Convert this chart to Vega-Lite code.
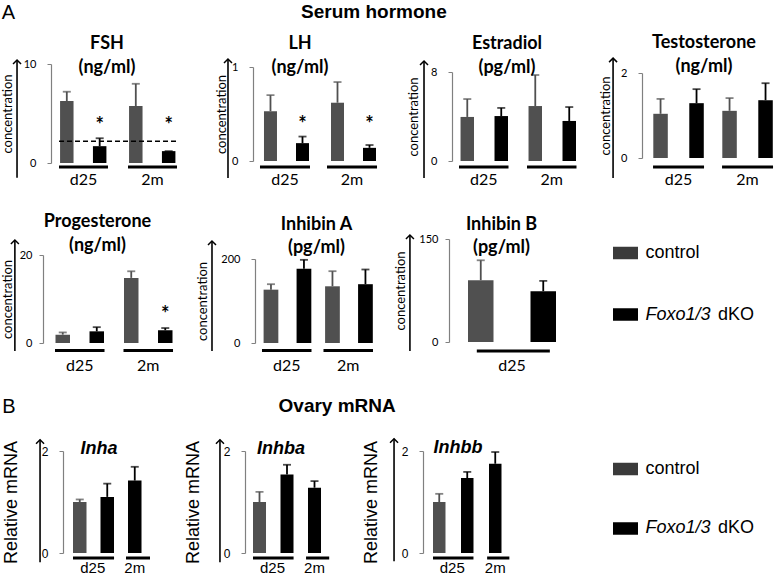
{
"$schema":"https://vega.github.io/schema/vega-lite/v6.json",
"padding":{"left":1,"top":3,"right":0,"bottom":0},
"background":"white",
"config":{"view":{"stroke":null},"font":"Lato","axis":{"labelColor":"#000","titleColor":"#000"}},
"datasets":{
"hormone":[
{"hormone":"FSH","group":"d25","genotype":"control","mean":6.26,"upper":7.2,"sig":false},
{"hormone":"FSH","group":"d25","genotype":"dKO","mean":1.7,"upper":2.5,"sig":true},
{"hormone":"FSH","group":"2m","genotype":"control","mean":5.75,"upper":8.0,"sig":false},
{"hormone":"FSH","group":"2m","genotype":"dKO","mean":1.2,"upper":1.2,"sig":true},
{"hormone":"LH","group":"d25","genotype":"control","mean":0.53,"upper":0.70,"sig":false},
{"hormone":"LH","group":"d25","genotype":"dKO","mean":0.19,"upper":0.26,"sig":true},
{"hormone":"LH","group":"2m","genotype":"control","mean":0.62,"upper":0.84,"sig":false},
{"hormone":"LH","group":"2m","genotype":"dKO","mean":0.14,"upper":0.17,"sig":true},
{"hormone":"Estradiol","group":"d25","genotype":"control","mean":3.96,"upper":5.57,"sig":false},
{"hormone":"Estradiol","group":"d25","genotype":"dKO","mean":4.04,"upper":4.77,"sig":false},
{"hormone":"Estradiol","group":"2m","genotype":"control","mean":4.94,"upper":7.73,"sig":false},
{"hormone":"Estradiol","group":"2m","genotype":"dKO","mean":3.6,"upper":4.85,"sig":false},
{"hormone":"Testosterone","group":"d25","genotype":"control","mean":1.04,"upper":1.39,"sig":false},
{"hormone":"Testosterone","group":"d25","genotype":"dKO","mean":1.29,"upper":1.62,"sig":false},
{"hormone":"Testosterone","group":"2m","genotype":"control","mean":1.11,"upper":1.41,"sig":false},
{"hormone":"Testosterone","group":"2m","genotype":"dKO","mean":1.36,"upper":1.76,"sig":false},
{"hormone":"Progesterone","group":"d25","genotype":"control","mean":1.9,"upper":2.4,"sig":false},
{"hormone":"Progesterone","group":"d25","genotype":"dKO","mean":2.65,"upper":3.6,"sig":false},
{"hormone":"Progesterone","group":"2m","genotype":"control","mean":14.8,"upper":16.3,"sig":false},
{"hormone":"Progesterone","group":"2m","genotype":"dKO","mean":2.9,"upper":3.4,"sig":true},
{"hormone":"Inhibin A","group":"d25","genotype":"control","mean":127,"upper":140,"sig":false},
{"hormone":"Inhibin A","group":"d25","genotype":"dKO","mean":177,"upper":198,"sig":false},
{"hormone":"Inhibin A","group":"2m","genotype":"control","mean":135,"upper":171,"sig":false},
{"hormone":"Inhibin A","group":"2m","genotype":"dKO","mean":140,"upper":175,"sig":false},
{"hormone":"Inhibin B","group":"d25","genotype":"control","mean":90,"upper":119,"sig":false},
{"hormone":"Inhibin B","group":"d25","genotype":"dKO","mean":74,"upper":89,"sig":false}
],
"mrna":[
{"gene":"Inha","slot":"d25 control","genotype":"control","mean":1.0,"upper":1.05},
{"gene":"Inha","slot":"d25 dKO","genotype":"dKO","mean":1.10,"upper":1.36},
{"gene":"Inha","slot":"2m dKO","genotype":"dKO","mean":1.42,"upper":1.69},
{"gene":"Inhba","slot":"d25 control","genotype":"control","mean":1.0,"upper":1.2},
{"gene":"Inhba","slot":"d25 dKO","genotype":"dKO","mean":1.54,"upper":1.73},
{"gene":"Inhba","slot":"2m dKO","genotype":"dKO","mean":1.28,"upper":1.41},
{"gene":"Inhbb","slot":"d25 control","genotype":"control","mean":1.0,"upper":1.16},
{"gene":"Inhbb","slot":"d25 dKO","genotype":"dKO","mean":1.47,"upper":1.59},
{"gene":"Inhbb","slot":"2m dKO","genotype":"dKO","mean":1.75,"upper":1.98}
],
"legend":[
{"genotype":"control","label":"control","suffix":""},
{"genotype":"dKO","label":"Foxo1/3","suffix":"dKO"}
]
},
"resolve":{"scale":{"xOffset":"independent"}},
"spacing":23,
"vconcat":[
{
"title":{"text":"A","anchor":"start","font":"Liberation Sans","fontSize":20,"fontWeight":"normal","color":"#000","baseline":"alphabetic","offset":0,"dy":36},
"spacing":26,
"resolve":{"scale":{"xOffset":"independent"}},
"vconcat":[
{
"title":{"text":"Serum hormone","font":"Liberation Sans","fontSize":19,"fontWeight":"bold","color":"#000","anchor":"middle","baseline":"alphabetic","offset":-3,"dx":-16},
"spacing":60,"bounds":"flush",
"resolve":{"scale":{"xOffset":"independent"}},
"hconcat":[
{"width":150,"height":107,
"title":{"text":["FSH","(ng/ml)"],"font":"Lato","fontSize":18,"fontWeight":"bold","color":"#000","anchor":"middle","frame":"group","baseline":"alphabetic","lineHeight":24,"offset":-35,"dx":-11},
"data":{"name":"hormone"},
"transform":[{"filter":"datum.hormone === 'FSH'"}],
"encoding":{
"x":{"field":"group","type":"nominal","scale":{"domain":["d25","2m"],"paddingInner":0.29,"paddingOuter":0.232,"align":0.5},"axis":{"title":null,"domain":false,"ticks":false,"tickSize":0,"labelAngle":0,"labelFont":"Lato","labelFontSize":16,"labelColor":"#000","labelPadding":8}},
"y":{"field":"mean","type":"quantitative","scale":{"domain":[0,10],"range":[107,8],"nice":false,"zero":false},"axis":{"offset":-8,"values":[0,10],"format":"d","grid":false,"domainColor":"#808080","domainWidth":1.2,"tickColor":"#808080","tickSize":4,"labelFont":"Lato","labelFontSize":11,"labelColor":"#000","labelPadding":11,"title":"concentration","titleFont":"Lato","titleFontSize":13,"titleFontWeight":"normal","titleColor":"#000","titlePadding":8.5}}},
"layer":[
{"mark":{"type":"bar"},"encoding":{"xOffset":{"field":"genotype","type":"nominal","scale":{"domain":["control","dKO"],"paddingInner":0.59,"paddingOuter":0.04,"align":0.4}},"color":{"field":"genotype","type":"nominal","scale":{"domain":["control","dKO"],"range":["#505050","#000000"]},"legend":null}}},
{"mark":{"type":"rule","strokeWidth":1.8},"encoding":{"xOffset":{"field":"genotype","type":"nominal"},"y2":{"field":"upper"},"color":{"field":"genotype","type":"nominal","legend":null}}},
{"mark":{"type":"tick","thickness":1.8,"size":8},"encoding":{"xOffset":{"field":"genotype","type":"nominal"},"y":{"field":"upper","type":"quantitative"},"color":{"field":"genotype","type":"nominal","legend":null}}},
{"transform":[{"filter":"datum.genotype === 'control'"}],"mark":{"type":"rule","strokeWidth":3,"color":"#000","yOffset":4},"encoding":{"x":{"field":"group","type":"nominal","bandPosition":0},"x2":{"field":"group","bandPosition":1},"y":{"datum":0}}},
{"transform":[{"filter":"datum.sig"}],"mark":{"type":"text","text":"*","font":"Lato","fontSize":20,"fontWeight":"bold","baseline":"middle","color":"#000"},"encoding":{"xOffset":{"field":"genotype","type":"nominal"},"y":{"datum":3.74}}},
{"transform":[{"filter":"datum.genotype === 'control' && datum.group === 'd25'"}],"mark":{"type":"rule","strokeWidth":1.6,"color":"#000"},"encoding":{"x":{"field":"group","type":"nominal","bandPosition":-0.857},"y":{"datum":-1.5},"y2":{"datum":10.4}}},
{"transform":[{"filter":"datum.genotype === 'control' && datum.group === 'd25'"}],"mark":{"type":"point","shape":"M-1,1L0,0L1,1","filled":false,"size":64,"strokeWidth":1.5,"color":"#000","opacity":1},"encoding":{"x":{"field":"group","type":"nominal","bandPosition":-0.857},"y":{"datum":10.4}}},
{"transform":[{"filter":"datum.genotype === 'control' && datum.group === 'd25'"}],"mark":{"type":"rule","strokeWidth":1.5,"strokeDash":[5,3],"color":"#000"},"encoding":{"x":{"field":"group","type":"nominal","bandPosition":0},"x2":{"field":"group","bandPosition":2.408},"y":{"datum":2.2}}}
]},
{"width":139,"height":107,
"title":{"text":["LH","(ng/ml)"],"font":"Lato","fontSize":18,"fontWeight":"bold","color":"#000","anchor":"middle","frame":"group","baseline":"alphabetic","lineHeight":24,"offset":-35,"dx":-22.5},
"data":{"name":"hormone"},
"transform":[{"filter":"datum.hormone === 'LH'"}],
"encoding":{
"x":{"field":"group","type":"nominal","scale":{"domain":["d25","2m"],"paddingInner":0.254,"paddingOuter":0.164,"align":0.318},"axis":{"title":null,"domain":false,"ticks":false,"tickSize":0,"labelAngle":0,"labelFont":"Lato","labelFontSize":16,"labelColor":"#000","labelPadding":8}},
"y":{"field":"mean","type":"quantitative","scale":{"domain":[0,1],"range":[105,11],"nice":false,"zero":false},"axis":{"values":[0,1],"format":"d","grid":false,"domainColor":"#808080","domainWidth":1.2,"tickColor":"#808080","tickSize":4,"labelFont":"Lato","labelFontSize":11,"labelColor":"#000","labelPadding":11,"title":"concentration","titleFont":"Lato","titleFontSize":13,"titleFontWeight":"normal","titleColor":"#000","titlePadding":3}}},
"layer":[
{"mark":{"type":"bar"},"encoding":{"xOffset":{"field":"genotype","type":"nominal","scale":{"domain":["control","dKO"],"paddingInner":0.594,"paddingOuter":0.078,"align":0.8}},"color":{"field":"genotype","type":"nominal","scale":{"domain":["control","dKO"],"range":["#505050","#000000"]},"legend":null}}},
{"mark":{"type":"rule","strokeWidth":1.8},"encoding":{"xOffset":{"field":"genotype","type":"nominal"},"y2":{"field":"upper"},"color":{"field":"genotype","type":"nominal","legend":null}}},
{"mark":{"type":"tick","thickness":1.8,"size":8},"encoding":{"xOffset":{"field":"genotype","type":"nominal"},"y":{"field":"upper","type":"quantitative"},"color":{"field":"genotype","type":"nominal","legend":null}}},
{"transform":[{"filter":"datum.genotype === 'control'"}],"mark":{"type":"rule","strokeWidth":3,"color":"#000","yOffset":6},"encoding":{"x":{"field":"group","type":"nominal","bandPosition":0},"x2":{"field":"group","bandPosition":1},"y":{"datum":0}}},
{"transform":[{"filter":"datum.sig"}],"mark":{"type":"text","text":"*","font":"Lato","fontSize":20,"fontWeight":"bold","baseline":"middle","color":"#000"},"encoding":{"xOffset":{"field":"genotype","type":"nominal"},"y":{"datum":0.383}}},
{"transform":[{"filter":"datum.genotype === 'control' && datum.group === 'd25'"}],"mark":{"type":"rule","strokeWidth":1.6,"color":"#000"},"encoding":{"x":{"field":"group","type":"nominal","bandPosition":-0.64},"y":{"datum":-0.18},"y2":{"datum":1.085}}},
{"transform":[{"filter":"datum.genotype === 'control' && datum.group === 'd25'"}],"mark":{"type":"point","shape":"M-1,1L0,0L1,1","filled":false,"size":64,"strokeWidth":1.5,"color":"#000","opacity":1},"encoding":{"x":{"field":"group","type":"nominal","bandPosition":-0.64},"y":{"datum":1.085}}}
]},
{"width":130,"height":107,
"title":{"text":["Estradiol","(pg/ml)"],"font":"Lato","fontSize":18,"fontWeight":"bold","color":"#000","anchor":"middle","frame":"group","baseline":"alphabetic","lineHeight":24,"offset":-35,"dx":-10},
"data":{"name":"hormone"},
"transform":[{"filter":"datum.hormone === 'Estradiol'"}],
"encoding":{
"x":{"field":"group","type":"nominal","scale":{"domain":["d25","2m"],"paddingInner":0.272,"paddingOuter":0.092,"align":0.56},"axis":{"title":null,"domain":false,"ticks":false,"tickSize":0,"labelAngle":0,"labelFont":"Lato","labelFontSize":16,"labelColor":"#000","labelPadding":8}},
"y":{"field":"mean","type":"quantitative","scale":{"domain":[0,8],"range":[105,16],"nice":false,"zero":false},"axis":{"values":[0,8],"format":"d","grid":false,"domainColor":"#808080","domainWidth":1.2,"tickColor":"#808080","tickSize":4,"labelFont":"Lato","labelFontSize":11,"labelColor":"#000","labelPadding":11,"title":"concentration","titleFont":"Lato","titleFontSize":13,"titleFontWeight":"normal","titleColor":"#000","titlePadding":10}}},
"layer":[
{"mark":{"type":"bar"},"encoding":{"xOffset":{"field":"genotype","type":"nominal","scale":{"domain":["control","dKO"],"paddingInner":0.603,"paddingOuter":0.03,"align":0.75}},"color":{"field":"genotype","type":"nominal","scale":{"domain":["control","dKO"],"range":["#505050","#000000"]},"legend":null}}},
{"mark":{"type":"rule","strokeWidth":1.8},"encoding":{"xOffset":{"field":"genotype","type":"nominal"},"y2":{"field":"upper"},"color":{"field":"genotype","type":"nominal","legend":null}}},
{"mark":{"type":"tick","thickness":1.8,"size":8},"encoding":{"xOffset":{"field":"genotype","type":"nominal"},"y":{"field":"upper","type":"quantitative"},"color":{"field":"genotype","type":"nominal","legend":null}}},
{"transform":[{"filter":"datum.genotype === 'control'"}],"mark":{"type":"rule","strokeWidth":3,"color":"#000","yOffset":6},"encoding":{"x":{"field":"group","type":"nominal","bandPosition":0},"x2":{"field":"group","bandPosition":1},"y":{"datum":0}}},
{"transform":[{"filter":"datum.genotype === 'control' && datum.group === 'd25'"}],"mark":{"type":"rule","strokeWidth":1.6,"color":"#000"},"encoding":{"x":{"field":"group","type":"nominal","bandPosition":-0.707},"y":{"datum":-1.53},"y2":{"datum":8.99}}},
{"transform":[{"filter":"datum.genotype === 'control' && datum.group === 'd25'"}],"mark":{"type":"point","shape":"M-1,1L0,0L1,1","filled":false,"size":64,"strokeWidth":1.5,"color":"#000","opacity":1},"encoding":{"x":{"field":"group","type":"nominal","bandPosition":-0.707},"y":{"datum":8.99}}}
]},
{"width":136,"height":107,
"title":{"text":["Testosterone","(ng/ml)"],"font":"Lato","fontSize":18,"fontWeight":"bold","color":"#000","anchor":"middle","frame":"group","baseline":"alphabetic","lineHeight":24,"offset":-35,"dx":-6},
"data":{"name":"hormone"},
"transform":[{"filter":"datum.hormone === 'Testosterone'"}],
"encoding":{
"x":{"field":"group","type":"nominal","scale":{"domain":["d25","2m"],"paddingInner":0.261,"paddingOuter":0.116,"align":0.69},"axis":{"title":null,"domain":false,"ticks":false,"tickSize":0,"labelAngle":0,"labelFont":"Lato","labelFontSize":16,"labelColor":"#000","labelPadding":8}},
"y":{"field":"mean","type":"quantitative","scale":{"domain":[0,2],"range":[102,17],"nice":false,"zero":false},"axis":{"values":[0,2],"format":"d","grid":false,"domainColor":"#808080","domainWidth":1.2,"tickColor":"#808080","tickSize":4,"labelFont":"Lato","labelFontSize":11,"labelColor":"#000","labelPadding":11,"title":"concentration","titleFont":"Lato","titleFontSize":13,"titleFontWeight":"normal","titleColor":"#000","titlePadding":8}}},
"layer":[
{"mark":{"type":"bar"},"encoding":{"xOffset":{"field":"genotype","type":"nominal","scale":{"domain":["control","dKO"],"paddingInner":0.597,"paddingOuter":0.007,"align":0.5}},"color":{"field":"genotype","type":"nominal","scale":{"domain":["control","dKO"],"range":["#505050","#000000"]},"legend":null}}},
{"mark":{"type":"rule","strokeWidth":1.8},"encoding":{"xOffset":{"field":"genotype","type":"nominal"},"y2":{"field":"upper"},"color":{"field":"genotype","type":"nominal","legend":null}}},
{"mark":{"type":"tick","thickness":1.8,"size":8},"encoding":{"xOffset":{"field":"genotype","type":"nominal"},"y":{"field":"upper","type":"quantitative"},"color":{"field":"genotype","type":"nominal","legend":null}}},
{"transform":[{"filter":"datum.genotype === 'control'"}],"mark":{"type":"rule","strokeWidth":3,"color":"#000","yOffset":9},"encoding":{"x":{"field":"group","type":"nominal","bandPosition":0},"x2":{"field":"group","bandPosition":1},"y":{"datum":0}}},
{"transform":[{"filter":"datum.genotype === 'control' && datum.group === 'd25'"}],"mark":{"type":"rule","strokeWidth":1.6,"color":"#000"},"encoding":{"x":{"field":"group","type":"nominal","bandPosition":-0.784},"y":{"datum":-0.47},"y2":{"datum":2.35}}},
{"transform":[{"filter":"datum.genotype === 'control' && datum.group === 'd25'"}],"mark":{"type":"point","shape":"M-1,1L0,0L1,1","filled":false,"size":64,"strokeWidth":1.5,"color":"#000","opacity":1},"encoding":{"x":{"field":"group","type":"nominal","bandPosition":-0.784},"y":{"datum":2.35}}}
]}
]
},
{
"spacing":60,"bounds":"flush",
"resolve":{"scale":{"xOffset":"independent"}},
"hconcat":[
{"width":152,"height":115,
"title":{"text":["Progesterone","(ng/ml)"],"font":"Lato","fontSize":18,"fontWeight":"bold","color":"#000","anchor":"middle","frame":"group","baseline":"alphabetic","lineHeight":24,"offset":-41,"dx":-21.5},
"data":{"name":"hormone"},
"transform":[{"filter":"datum.hormone === 'Progesterone'"}],
"encoding":{
"x":{"field":"group","type":"nominal","scale":{"domain":["d25","2m"],"paddingInner":0.277,"paddingOuter":0.248,"align":0.353},"axis":{"title":null,"domain":false,"ticks":false,"tickSize":0,"labelAngle":0,"labelFont":"Lato","labelFontSize":16,"labelColor":"#000","labelPadding":14}},
"y":{"field":"mean","type":"quantitative","scale":{"domain":[0,20],"range":[115,27],"nice":false,"zero":false},"axis":{"values":[0,20],"format":"d","grid":false,"domainColor":"#808080","domainWidth":1.2,"tickColor":"#808080","tickSize":4,"labelFont":"Lato","labelFontSize":11,"labelColor":"#000","labelPadding":7,"title":"concentration","titleFont":"Lato","titleFontSize":13,"titleFontWeight":"normal","titleColor":"#000","titlePadding":4.5}}},
"layer":[
{"mark":{"type":"bar"},"encoding":{"xOffset":{"field":"genotype","type":"nominal","scale":{"domain":["control","dKO"],"paddingInner":0.574,"paddingOuter":0.015,"align":0.5}},"color":{"field":"genotype","type":"nominal","scale":{"domain":["control","dKO"],"range":["#505050","#000000"]},"legend":null}}},
{"mark":{"type":"rule","strokeWidth":1.8},"encoding":{"xOffset":{"field":"genotype","type":"nominal"},"y2":{"field":"upper"},"color":{"field":"genotype","type":"nominal","legend":null}}},
{"mark":{"type":"tick","thickness":1.8,"size":8},"encoding":{"xOffset":{"field":"genotype","type":"nominal"},"y":{"field":"upper","type":"quantitative"},"color":{"field":"genotype","type":"nominal","legend":null}}},
{"transform":[{"filter":"datum.genotype === 'control'"}],"mark":{"type":"rule","strokeWidth":3,"color":"#000","yOffset":7.5},"encoding":{"x":{"field":"group","type":"nominal","bandPosition":0},"x2":{"field":"group","bandPosition":1},"y":{"datum":0}}},
{"transform":[{"filter":"datum.sig"}],"mark":{"type":"text","text":"*","font":"Lato","fontSize":20,"fontWeight":"bold","baseline":"middle","color":"#000"},"encoding":{"xOffset":{"field":"genotype","type":"nominal"},"y":{"datum":6.36}}},
{"transform":[{"filter":"datum.genotype === 'control' && datum.group === 'd25'"}],"mark":{"type":"rule","strokeWidth":1.6,"color":"#000"},"encoding":{"x":{"field":"group","type":"nominal","bandPosition":-0.81},"y":{"datum":-1.8},"y2":{"datum":23.4}}},
{"transform":[{"filter":"datum.genotype === 'control' && datum.group === 'd25'"}],"mark":{"type":"point","shape":"M-1,1L0,0L1,1","filled":false,"size":64,"strokeWidth":1.5,"color":"#000","opacity":1},"encoding":{"x":{"field":"group","type":"nominal","bandPosition":-0.81},"y":{"datum":23.4}}}
]},
{"width":134,"height":115,
"title":{"text":["Inhibin A","(pg/ml)"],"font":"Lato","fontSize":18,"fontWeight":"bold","color":"#000","anchor":"middle","frame":"group","baseline":"alphabetic","lineHeight":23,"offset":-40,"dy":3,"dx":-5.5},
"data":{"name":"hormone"},
"transform":[{"filter":"datum.hormone === 'Inhibin A'"}],
"encoding":{
"x":{"field":"group","type":"nominal","scale":{"domain":["d25","2m"],"paddingInner":0.195,"paddingOuter":0.187,"align":0.304},"axis":{"title":null,"domain":false,"ticks":false,"tickSize":0,"labelAngle":0,"labelFont":"Lato","labelFontSize":16,"labelColor":"#000","labelPadding":14}},
"y":{"field":"mean","type":"quantitative","scale":{"domain":[0,200],"range":[115,31],"nice":false,"zero":false},"axis":{"values":[0,200],"format":"d","grid":false,"domainColor":"#808080","domainWidth":1.2,"tickColor":"#808080","tickSize":4,"labelFont":"Lato","labelFontSize":11,"labelColor":"#000","labelPadding":11,"title":"concentration","titleFont":"Lato","titleFontSize":13,"titleFontWeight":"normal","titleColor":"#000","titlePadding":11}}},
"layer":[
{"mark":{"type":"bar"},"encoding":{"xOffset":{"field":"genotype","type":"nominal","scale":{"domain":["control","dKO"],"paddingInner":0.553,"paddingOuter":0.027,"align":0.9}},"color":{"field":"genotype","type":"nominal","scale":{"domain":["control","dKO"],"range":["#505050","#000000"]},"legend":null}}},
{"mark":{"type":"rule","strokeWidth":1.8},"encoding":{"xOffset":{"field":"genotype","type":"nominal"},"y2":{"field":"upper"},"color":{"field":"genotype","type":"nominal","legend":null}}},
{"mark":{"type":"tick","thickness":1.8,"size":8},"encoding":{"xOffset":{"field":"genotype","type":"nominal"},"y":{"field":"upper","type":"quantitative"},"color":{"field":"genotype","type":"nominal","legend":null}}},
{"transform":[{"filter":"datum.genotype === 'control'"}],"mark":{"type":"rule","strokeWidth":3,"color":"#000","yOffset":7.5},"encoding":{"x":{"field":"group","type":"nominal","bandPosition":0},"x2":{"field":"group","bandPosition":1},"y":{"datum":0}}},
{"transform":[{"filter":"datum.genotype === 'control' && datum.group === 'd25'"}],"mark":{"type":"rule","strokeWidth":1.6,"color":"#000"},"encoding":{"x":{"field":"group","type":"nominal","bandPosition":-1.01},"y":{"datum":-19},"y2":{"datum":243}}},
{"transform":[{"filter":"datum.genotype === 'control' && datum.group === 'd25'"}],"mark":{"type":"point","shape":"M-1,1L0,0L1,1","filled":false,"size":64,"strokeWidth":1.5,"color":"#000","opacity":1},"encoding":{"x":{"field":"group","type":"nominal","bandPosition":-1.01},"y":{"datum":243}}}
]},
{"width":107,"height":115,
"title":{"text":["Inhibin B","(pg/ml)"],"font":"Lato","fontSize":18,"fontWeight":"bold","color":"#000","anchor":"middle","frame":"group","baseline":"alphabetic","lineHeight":23,"offset":-40,"dy":3,"dx":-1},
"data":{"name":"hormone"},
"transform":[{"filter":"datum.hormone === 'Inhibin B'"}],
"encoding":{
"x":{"field":"group","type":"nominal","scale":{"domain":["d25"],"paddingInner":0,"paddingOuter":0.108,"align":1},"axis":{"title":null,"domain":false,"ticks":false,"tickSize":0,"labelAngle":0,"labelFont":"Lato","labelFontSize":16,"labelColor":"#000","labelPadding":14}},
"y":{"field":"mean","type":"quantitative","scale":{"domain":[0,150],"range":[114,11],"nice":false,"zero":false},"axis":{"values":[0,150],"format":"d","grid":false,"domainColor":"#808080","domainWidth":1.2,"tickColor":"#808080","tickSize":4,"labelFont":"Lato","labelFontSize":11,"labelColor":"#000","labelPadding":7,"title":"concentration","titleFont":"Lato","titleFontSize":13,"titleFontWeight":"normal","titleColor":"#000","titlePadding":11}}},
"layer":[
{"mark":{"type":"bar"},"encoding":{"xOffset":{"field":"genotype","type":"nominal","scale":{"domain":["control","dKO"],"paddingInner":0.592,"paddingOuter":0,"align":0.5}},"color":{"field":"genotype","type":"nominal","scale":{"domain":["control","dKO"],"range":["#505050","#000000"]},"legend":null}}},
{"mark":{"type":"rule","strokeWidth":1.8},"encoding":{"xOffset":{"field":"genotype","type":"nominal"},"y2":{"field":"upper"},"color":{"field":"genotype","type":"nominal","legend":null}}},
{"mark":{"type":"tick","thickness":1.8,"size":8},"encoding":{"xOffset":{"field":"genotype","type":"nominal"},"y":{"field":"upper","type":"quantitative"},"color":{"field":"genotype","type":"nominal","legend":null}}},
{"transform":[{"filter":"datum.genotype === 'control'"}],"mark":{"type":"rule","strokeWidth":3,"color":"#000","yOffset":9},"encoding":{"x":{"field":"group","type":"nominal","bandPosition":0.1},"x2":{"field":"group","bandPosition":0.93},"y":{"datum":0}}},
{"transform":[{"filter":"datum.genotype === 'control' && datum.group === 'd25'"}],"mark":{"type":"rule","strokeWidth":1.6,"color":"#000"},"encoding":{"x":{"field":"group","type":"nominal","bandPosition":-0.66},"y":{"datum":-13},"y2":{"datum":155.8}}},
{"transform":[{"filter":"datum.genotype === 'control' && datum.group === 'd25'"}],"mark":{"type":"point","shape":"M-1,1L0,0L1,1","filled":false,"size":64,"strokeWidth":1.5,"color":"#000","opacity":1},"encoding":{"x":{"field":"group","type":"nominal","bandPosition":-0.66},"y":{"datum":155.8}}}
]},
{"width":19,"height":111.5,
"data":{"name":"legend"},
"encoding":{"y":{"field":"genotype","type":"nominal","scale":{"type":"point","domain":["control","dKO"],"padding":0.4065},"axis":null}},
"layer":[
{"mark":{"type":"point","shape":"M-1,-0.5H1V0.5H-1Z","size":625,"filled":true,"opacity":1,"strokeWidth":0},"encoding":{"fill":{"field":"genotype","type":"nominal","scale":{"domain":["control","dKO"],"range":["#3a3a3a","#000000"]},"legend":null}}},
{"transform":[{"filter":"datum.genotype === 'control'"}],"mark":{"type":"text","align":"left","baseline":"middle","dx":20,"font":"Liberation Sans","fontSize":18,"color":"#000"},"encoding":{"text":{"field":"label"}}},
{"transform":[{"filter":"datum.genotype === 'dKO'"}],"mark":{"type":"text","align":"left","baseline":"middle","dx":20,"font":"Liberation Sans","fontSize":18,"fontStyle":"italic","color":"#000"},"encoding":{"text":{"field":"label"}}},
{"transform":[{"filter":"datum.genotype === 'dKO'"}],"mark":{"type":"text","align":"left","baseline":"middle","dx":92.5,"font":"Liberation Sans","fontSize":18,"color":"#000"},"encoding":{"text":{"field":"suffix"}}}
]}
]
}
]
},
{
"title":{"text":"B","anchor":"start","font":"Liberation Sans","fontSize":20,"fontWeight":"normal","color":"#000","baseline":"alphabetic","offset":0,"dy":36},
"resolve":{"scale":{"xOffset":"independent"}},
"vconcat":[
{
"title":{"text":"Ovary mRNA","font":"Liberation Sans","fontSize":19,"fontWeight":"bold","color":"#000","anchor":"middle","baseline":"alphabetic","offset":5,"dx":-41},
"spacing":60,"bounds":"flush",
"resolve":{"scale":{"xOffset":"independent"}},
"hconcat":[
{"width":142,"height":116,
"title":{"text":"Inha","font":"Liberation Sans","fontSize":18,"fontWeight":"bold","fontStyle":"italic","color":"#000","anchor":"middle","frame":"group","baseline":"alphabetic","offset":-18,"dy":17,"dx":-15},
"data":{"name":"mrna"},
"transform":[{"filter":"datum.gene === 'Inha'"}],
"encoding":{
"x":{"field":"slot","type":"nominal","scale":{"domain":["x0","d25 control","d25 dKO","2m dKO","x1"],"paddingInner":0.509,"paddingOuter":0.336,"align":0.135},"axis":{"title":null,"domain":false,"ticks":false,"tickSize":0,"labelAngle":0,"labelFont":"Liberation Sans","labelFontSize":15,"labelColor":"#000","labelPadding":7,"labelExpr":"datum.value === 'd25 control' ? 'd25' : (datum.value === '2m dKO' ? '2m' : '')","labelOffset":{"condition":{"test":"datum.value === 'd25 control'","value":13},"value":0}}},
"y":{"field":"mean","type":"quantitative","scale":{"domain":[0,2],"range":[116,14],"nice":false,"zero":false},"axis":{"offset":-20,"values":[0,2],"format":"d","grid":false,"domainColor":"#808080","domainWidth":1.2,"tickColor":"#808080","tickSize":4,"labelFont":"Liberation Sans","labelFontSize":12,"labelColor":"#000","labelPadding":11,"title":"Relative mRNA","titleFont":"Liberation Sans","titleFontSize":18,"titleFontWeight":"normal","titleColor":"#000","titlePadding":21}}},
"layer":[
{"mark":{"type":"bar"},"encoding":{"color":{"field":"genotype","type":"nominal","scale":{"domain":["control","dKO"],"range":["#505050","#000000"]},"legend":null}}},
{"mark":{"type":"rule","strokeWidth":1.8},"encoding":{"y2":{"field":"upper"},"color":{"field":"genotype","type":"nominal","legend":null}}},
{"mark":{"type":"tick","thickness":1.8,"size":8},"encoding":{"y":{"field":"upper","type":"quantitative"},"color":{"field":"genotype","type":"nominal","legend":null}}},
{"transform":[{"filter":"datum.slot === 'd25 control'"}],"mark":{"type":"rule","strokeWidth":3,"color":"#000","yOffset":5},"encoding":{"x":{"field":"slot","type":"nominal","bandPosition":0},"x2":{"field":"slot","bandPosition":3.04},"y":{"datum":0}}},
{"transform":[{"filter":"datum.slot === '2m dKO'"}],"mark":{"type":"rule","strokeWidth":3,"color":"#000","yOffset":5},"encoding":{"x":{"field":"slot","type":"nominal","bandPosition":-0.15},"x2":{"field":"slot","bandPosition":1.63},"y":{"datum":0}}},
{"transform":[{"filter":"datum.slot === 'd25 control'"}],"mark":{"type":"rule","strokeWidth":1.6,"color":"#000"},"encoding":{"x":{"field":"slot","type":"nominal","bandPosition":-2.44},"y":{"datum":-0.18},"y2":{"datum":2.22}}},
{"transform":[{"filter":"datum.slot === 'd25 control'"}],"mark":{"type":"point","shape":"M-1,1L0,0L1,1","filled":false,"size":64,"strokeWidth":1.5,"color":"#000","opacity":1},"encoding":{"x":{"field":"slot","type":"nominal","bandPosition":-2.44},"y":{"datum":2.22}}}
]},
{"width":118,"height":116,
"title":{"text":"Inhba","font":"Liberation Sans","fontSize":18,"fontWeight":"bold","fontStyle":"italic","color":"#000","anchor":"middle","frame":"group","baseline":"alphabetic","offset":-18,"dy":17,"dx":-23},
"data":{"name":"mrna"},
"transform":[{"filter":"datum.gene === 'Inhba'"}],
"encoding":{
"x":{"field":"slot","type":"nominal","scale":{"domain":["d25 control","d25 dKO","2m dKO"],"paddingInner":0.527,"paddingOuter":0.909,"align":0.16},"axis":{"title":null,"domain":false,"ticks":false,"tickSize":0,"labelAngle":0,"labelFont":"Liberation Sans","labelFontSize":15,"labelColor":"#000","labelPadding":7,"labelExpr":"datum.value === 'd25 control' ? 'd25' : (datum.value === '2m dKO' ? '2m' : '')","labelOffset":{"condition":{"test":"datum.value === 'd25 control'","value":13},"value":0}}},
"y":{"field":"mean","type":"quantitative","scale":{"domain":[0,2],"range":[116,14],"nice":false,"zero":false},"axis":{"values":[0,2],"format":"d","grid":false,"domainColor":"#808080","domainWidth":1.2,"tickColor":"#808080","tickSize":4,"labelFont":"Liberation Sans","labelFontSize":12,"labelColor":"#000","labelPadding":11,"title":"Relative mRNA","titleFont":"Liberation Sans","titleFontSize":18,"titleFontWeight":"normal","titleColor":"#000","titlePadding":21}}},
"layer":[
{"mark":{"type":"bar"},"encoding":{"color":{"field":"genotype","type":"nominal","scale":{"domain":["control","dKO"],"range":["#505050","#000000"]},"legend":null}}},
{"mark":{"type":"rule","strokeWidth":1.8},"encoding":{"y2":{"field":"upper"},"color":{"field":"genotype","type":"nominal","legend":null}}},
{"mark":{"type":"tick","thickness":1.8,"size":8},"encoding":{"y":{"field":"upper","type":"quantitative"},"color":{"field":"genotype","type":"nominal","legend":null}}},
{"transform":[{"filter":"datum.slot === 'd25 control'"}],"mark":{"type":"rule","strokeWidth":3,"color":"#000","yOffset":5},"encoding":{"x":{"field":"slot","type":"nominal","bandPosition":0},"x2":{"field":"slot","bandPosition":3.12},"y":{"datum":0}}},
{"transform":[{"filter":"datum.slot === '2m dKO'"}],"mark":{"type":"rule","strokeWidth":3,"color":"#000","yOffset":5},"encoding":{"x":{"field":"slot","type":"nominal","bandPosition":-0.15},"x2":{"field":"slot","bandPosition":1.63},"y":{"datum":0}}},
{"transform":[{"filter":"datum.slot === 'd25 control'"}],"mark":{"type":"rule","strokeWidth":1.6,"color":"#000"},"encoding":{"x":{"field":"slot","type":"nominal","bandPosition":-2.54},"y":{"datum":-0.18},"y2":{"datum":2.22}}},
{"transform":[{"filter":"datum.slot === 'd25 control'"}],"mark":{"type":"point","shape":"M-1,1L0,0L1,1","filled":false,"size":64,"strokeWidth":1.5,"color":"#000","opacity":1},"encoding":{"x":{"field":"slot","type":"nominal","bandPosition":-2.54},"y":{"datum":2.22}}}
]},
{"width":133,"height":116,
"title":{"text":"Inhbb","font":"Liberation Sans","fontSize":18,"fontWeight":"bold","fontStyle":"italic","color":"#000","anchor":"middle","frame":"group","baseline":"alphabetic","offset":-18,"dy":17,"dx":-31.5},
"data":{"name":"mrna"},
"transform":[{"filter":"datum.gene === 'Inhbb'"}],
"encoding":{
"x":{"field":"slot","type":"nominal","scale":{"domain":["d25 control","d25 dKO","2m dKO","x1"],"paddingInner":0.554,"paddingOuter":0.652,"align":0.274},"axis":{"title":null,"domain":false,"ticks":false,"tickSize":0,"labelAngle":0,"labelFont":"Liberation Sans","labelFontSize":15,"labelColor":"#000","labelPadding":7,"labelExpr":"datum.value === 'd25 control' ? 'd25' : (datum.value === '2m dKO' ? '2m' : '')","labelOffset":{"condition":{"test":"datum.value === 'd25 control'","value":13},"value":0}}},
"y":{"field":"mean","type":"quantitative","scale":{"domain":[0,2],"range":[116,14],"nice":false,"zero":false},"axis":{"values":[0,2],"format":"d","grid":false,"domainColor":"#808080","domainWidth":1.2,"tickColor":"#808080","tickSize":4,"labelFont":"Liberation Sans","labelFontSize":12,"labelColor":"#000","labelPadding":11,"title":"Relative mRNA","titleFont":"Liberation Sans","titleFontSize":18,"titleFontWeight":"normal","titleColor":"#000","titlePadding":21}}},
"layer":[
{"mark":{"type":"bar"},"encoding":{"color":{"field":"genotype","type":"nominal","scale":{"domain":["control","dKO"],"range":["#505050","#000000"]},"legend":null}}},
{"mark":{"type":"rule","strokeWidth":1.8},"encoding":{"y2":{"field":"upper"},"color":{"field":"genotype","type":"nominal","legend":null}}},
{"mark":{"type":"tick","thickness":1.8,"size":8},"encoding":{"y":{"field":"upper","type":"quantitative"},"color":{"field":"genotype","type":"nominal","legend":null}}},
{"transform":[{"filter":"datum.slot === 'd25 control'"}],"mark":{"type":"rule","strokeWidth":3,"color":"#000","yOffset":5},"encoding":{"x":{"field":"slot","type":"nominal","bandPosition":0},"x2":{"field":"slot","bandPosition":3.24},"y":{"datum":0}}},
{"transform":[{"filter":"datum.slot === '2m dKO'"}],"mark":{"type":"rule","strokeWidth":3,"color":"#000","yOffset":5},"encoding":{"x":{"field":"slot","type":"nominal","bandPosition":-0.15},"x2":{"field":"slot","bandPosition":1.63},"y":{"datum":0}}},
{"transform":[{"filter":"datum.slot === 'd25 control'"}],"mark":{"type":"rule","strokeWidth":1.6,"color":"#000"},"encoding":{"x":{"field":"slot","type":"nominal","bandPosition":-3.12},"y":{"datum":-0.16},"y2":{"datum":2.24}}},
{"transform":[{"filter":"datum.slot === 'd25 control'"}],"mark":{"type":"point","shape":"M-1,1L0,0L1,1","filled":false,"size":64,"strokeWidth":1.5,"color":"#000","opacity":1},"encoding":{"x":{"field":"slot","type":"nominal","bandPosition":-3.12},"y":{"datum":2.24}}}
]},
{"width":19,"height":123.5,
"data":{"name":"legend"},
"encoding":{"y":{"field":"genotype","type":"nominal","scale":{"type":"point","domain":["control","dKO"],"padding":0.538},"axis":null}},
"layer":[
{"mark":{"type":"point","shape":"M-1,-0.5H1V0.5H-1Z","size":625,"filled":true,"opacity":1,"strokeWidth":0},"encoding":{"fill":{"field":"genotype","type":"nominal","scale":{"domain":["control","dKO"],"range":["#3a3a3a","#000000"]},"legend":null}}},
{"transform":[{"filter":"datum.genotype === 'control'"}],"mark":{"type":"text","align":"left","baseline":"middle","dx":20,"font":"Liberation Sans","fontSize":18,"color":"#000"},"encoding":{"text":{"field":"label"}}},
{"transform":[{"filter":"datum.genotype === 'dKO'"}],"mark":{"type":"text","align":"left","baseline":"middle","dx":20,"font":"Liberation Sans","fontSize":18,"fontStyle":"italic","color":"#000"},"encoding":{"text":{"field":"label"}}},
{"transform":[{"filter":"datum.genotype === 'dKO'"}],"mark":{"type":"text","align":"left","baseline":"middle","dx":92.5,"font":"Liberation Sans","fontSize":18,"color":"#000"},"encoding":{"text":{"field":"suffix"}}}
]}
]
}
]
}
]
}
